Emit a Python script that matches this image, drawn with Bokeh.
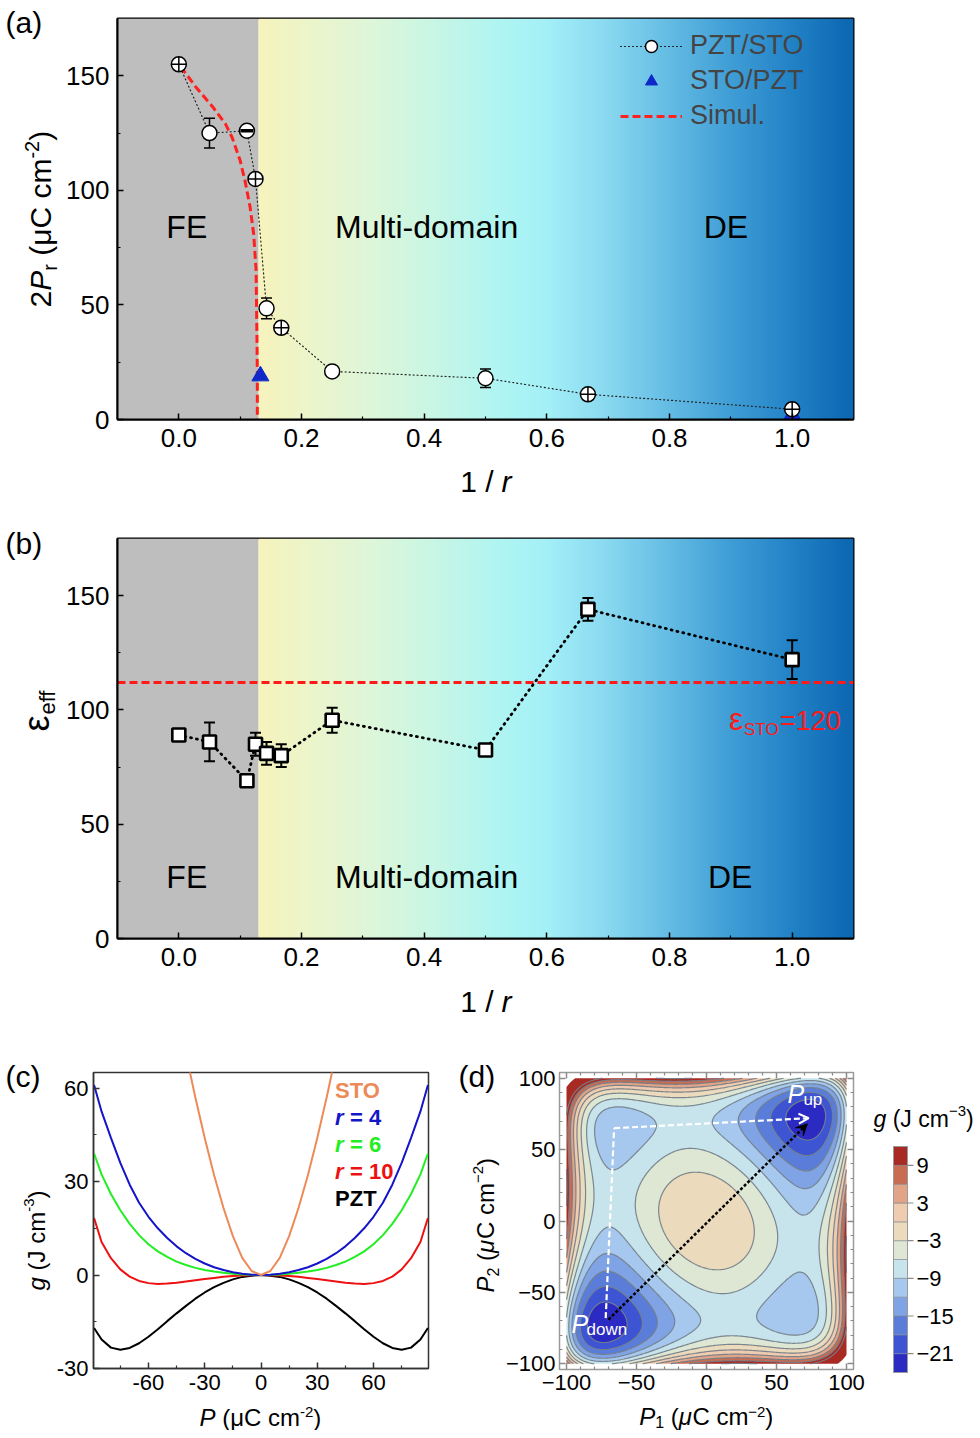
import numpy as np
from bokeh.plotting import figure
from bokeh.layouts import column, row
from bokeh.models import (ColumnDataSource, Legend, LegendItem, FixedTicker, Range1d,
                          Arrow, VeeHead, OpenHead, Span, Whisker, TeeHead, LinearAxis)
from bokeh.core.properties import value
from bokeh.embed import file_html
from bokeh.resources import INLINE

FONT = "Liberation Sans"

# ---------------- panel (a) data ----------------
inv_r = [0.0, 0.05, 0.111, 0.125, 0.143, 0.167, 0.25, 0.5, 0.667, 1.0]
pr2_pzt_sto = [155.0, 125.0, 126.0, 105.0, 48.5, 40.0, 21.0, 18.0, 11.0, 4.5]
pr2_pzt_sto_err = [2.0, 6.5, 1.0, 2.0, 4.5, 2.0, 1.5, 4.0, 2.0, 2.0]
inv_r_sto_pzt = [0.133, 1.0]
pr2_sto_pzt = [19.0, 2.0]
simul_inv_r = [0.003, 0.028, 0.055, 0.076, 0.087, 0.100, 0.108, 0.116, 0.122, 0.126, 0.127, 0.128, 0.128]
simul_pr2 = [154.0, 145.0, 136.5, 129.0, 123.0, 113.0, 104.0, 93.0, 81.0, 65.0, 43.0, 21.0, 0.0]

# ---------------- panel (b) data ----------------
eps_eff = [89.0, 86.0, 69.0, 85.0, 81.0, 80.0, 95.5, 82.5, 144.0, 122.0]
eps_eff_err = [1.5, 8.5, 2.0, 5.0, 5.0, 5.0, 5.5, 2.0, 5.0, 8.5]
eps_sto_level = 112.0

fe_boundary = 0.13
region_names = ["FE", "Multi-domain", "DE"]
bg_stop_x = [0.13, 0.2, 0.3, 0.42, 0.52, 0.6, 0.7, 0.8, 0.9, 1.0, 1.1]
bg_stop_color = ["#f7f3bd", "#eef5c9", "#e0f6d8", "#c8f6e6", "#b0f5f2", "#a4f0f8",
                 "#88d8f0", "#64bce4", "#409ed6", "#2282c6", "#0c66b2"]

# ---------------- panel (c) data ----------------
P_c = [-89, -85, -80, -75, -70, -65, -60, -55, -50, -45, -40, -35, -30, -25, -20, -15, -10, -5, 0,
       5, 10, 15, 20, 25, 30, 35, 40, 45, 50, 55, 60, 65, 70, 75, 80, 85, 89]
g_pzt = [-17.0, -20.7, -23.3, -24.0, -23.4, -21.9, -19.8, -17.4, -14.8, -12.3, -9.9, -7.6, -5.6, -3.9,
         -2.5, -1.4, -0.6, -0.2, 0.0, -0.2, -0.6, -1.4, -2.5, -3.9, -5.6, -7.6, -9.9, -12.3, -14.8,
         -17.4, -19.8, -21.9, -23.4, -24.0, -23.3, -20.7, -17.0]
g_r10 = [18.3, 10.6, 5.4, 1.8, -0.5, -1.9, -2.6, -2.85, -2.75, -2.5, -2.1, -1.7, -1.3, -0.92, -0.59,
         -0.34, -0.15, -0.04, 0.0, -0.04, -0.15, -0.34, -0.59, -0.92, -1.3, -1.7, -2.1, -2.5, -2.75,
         -2.85, -2.6, -1.9, -0.5, 1.8, 5.4, 10.6, 18.3]
g_r6 = [39.0, 32.3, 26.0, 20.8, 16.4, 12.8, 9.9, 7.6, 5.8, 4.3, 3.2, 2.3, 1.6, 1.1, 0.7, 0.4, 0.2, 0.05,
        0.0, 0.05, 0.2, 0.4, 0.7, 1.1, 1.6, 2.3, 3.2, 4.3, 5.8, 7.6, 9.9, 12.8, 16.4, 20.8, 26.0, 32.3, 39.0]
g_r4 = [61.0, 52.5, 44.0, 36.0, 29.0, 23.2, 18.7, 15.0, 11.9, 9.2, 7.0, 5.2, 3.7, 2.5, 1.6, 0.9, 0.4, 0.1,
        0.0, 0.1, 0.4, 0.9, 1.6, 2.5, 3.7, 5.2, 7.0, 9.2, 11.9, 15.0, 18.7, 23.2, 29.0, 36.0, 44.0, 52.5, 61.0]
P_sto = [-40, -35, -30, -25, -20, -15, -10, -5, 0, 5, 10, 15, 20, 25, 30, 35, 40]
g_sto = [71.0, 57.0, 44.0, 32.0, 21.5, 12.5, 5.5, 1.3, 0.0, 1.3, 5.5, 12.5, 21.5, 32.0, 44.0, 57.0, 71.0]

# ---------------- panel (d) data ----------------
landau_a = -2.813e-3     # single-layer Landau coefficients
landau_b = 4.87e-8
landau_c = 3.426e-11
coupling = 1.25e-3
contour_levels = [-24, -21, -18, -15, -12, -9, -6, -3, 0, 3, 6, 9, 12]
contour_colors = ["#2b2bc4", "#3d55d2", "#5b7dda", "#7fa3e4", "#a6c8ee", "#c7e3ec",
                  "#dde7d4", "#ebdabb", "#efcbb0", "#e2a487", "#c86c52", "#a82a22"]
over_levels = [12, 25]
cbar_ticks = [9, 3, -3, -9, -15, -21]
white_path_p1 = [-72, -66, 73]
white_path_p2 = [-68, 65, 72]
black_arrow_p1 = [-70, 72]
black_arrow_p2 = [-69, 68]

# ---------------- helpers ----------------
WID = {' ': .278, '(': .333, ')': .333, '-': .333, '−': .584, '/': .278, '=': .584, 'C': .722, 'J': .5,
       'P': .667, 'S': .667, 'T': .611, 'O': .778, 'c': .5, 'm': .833, 'e': .556, 'f': .278, 'g': .556,
       'r': .333, 'μ': .576, 'ε': .47, 'u': .556, 'p': .556, 'd': .556, 'o': .556, 'w': .722, 'n': .556}
MID = 0.3   # em-box middle above the alphabetic baseline


def tw(s, size):
    return sum(WID.get(ch, 0.556) for ch in s) * size


def canvas(w, h, xr=None, yr=None, ml=0, mr=0):
    c = figure(width=w, height=h, x_range=Range1d(*(xr or (0, w))), y_range=Range1d(*(yr or (0, h))),
               x_axis_location=None, y_axis_location=None, output_backend="svg", toolbar_location=None,
               min_border=0, min_border_left=ml, min_border_right=mr, min_border_top=0, min_border_bottom=0)
    c.xgrid.visible = False
    c.ygrid.visible = False
    c.outline_line_color = None
    c.background_fill_color = "white"
    c.border_fill_color = "white"
    return c


def rich(cv, pieces, x0, y0, vertical=False, color="black", scale_y=1.0):
    """x0, y0: start of the alphabetic baseline (canvas units)."""
    pos = 0.0
    for txt, size, style, shift in pieces:
        lead = len(txt) - len(txt.lstrip(" "))
        trail = len(txt) - len(txt.rstrip(" "))
        core = txt.strip(" ")
        pos += lead * WID[" "] * size
        if vertical:
            x, y, ang = x0 - shift - MID * size, y0 + pos, np.pi / 2
        else:
            x, y, ang = x0 + pos, y0 + (shift + MID * size) * scale_y, 0.0
        cv.text(x=[x], y=[y], text=[core], angle=ang, text_font=value(FONT), text_font_size=f"{size}px",
                text_font_style=style, text_color=color, text_align="left", text_baseline="middle")
        pos += tw(core, size) + trail * WID[" "] * size


def make_fig(w, h, xr, yr, ml, mr, mt, mb, **kw):
    p = figure(width=w, height=h, x_range=Range1d(*xr), y_range=Range1d(*yr),
               output_backend="svg", toolbar_location=None,
               min_border_left=ml, min_border_right=mr, min_border_top=mt, min_border_bottom=mb, **kw)
    p.xgrid.visible = False
    p.ygrid.visible = False
    p.background_fill_color = "white"
    p.border_fill_color = "white"
    return p


def style_axis(ax, size, line_color="black", tick_color="black", lw=2, maj=6, mnr=3):
    ax.major_label_text_font = FONT
    ax.major_label_text_font_size = size
    ax.major_label_text_color = "black"
    ax.axis_line_color = line_color
    ax.axis_line_width = lw
    ax.major_tick_line_color = tick_color
    ax.minor_tick_line_color = tick_color
    ax.major_tick_line_width = 1.5
    ax.minor_tick_line_width = 1.2
    ax.major_tick_in = maj
    ax.major_tick_out = 0
    ax.minor_tick_in = mnr
    ax.minor_tick_out = 0


def gradient_image():
    n = 400
    xs = np.linspace(fe_boundary, 1.1, n)
    rgb = np.array([[int(c[i:i + 2], 16) for i in (1, 3, 5)] for c in bg_stop_color], dtype=float)
    img = np.zeros((1, n), dtype=np.uint32)
    v = img.view(dtype=np.uint8).reshape((1, n, 4))
    for k in range(3):
        v[0, :, k] = np.interp(xs, bg_stop_x, rgb[:, k]).astype(np.uint8)
    v[0, :, 3] = 255
    return img


def background(p):
    p.quad(left=-0.1, right=fe_boundary, bottom=0, top=175, fill_color="#bebebe",
           line_color=None, level="image")
    p.image_rgba(image=[gradient_image()], x=fe_boundary, y=0, dw=1.1 - fe_boundary, dh=175, level="image")


def style_ab(p):
    for ax in (p.xaxis[0], p.yaxis[0]):
        style_axis(ax, "26px")
    p.outline_line_color = "black"
    p.outline_line_width = 2
    p.xaxis[0].ticker = FixedTicker(ticks=[0.0, 0.2, 0.4, 0.6, 0.8, 1.0], minor_ticks=[0.1, 0.3, 0.5, 0.7, 0.9])
    p.xaxis[0].major_label_overrides = {0.0: "0.0", 0.2: "0.2", 0.4: "0.4", 0.6: "0.6", 0.8: "0.8", 1.0: "1.0"}
    p.yaxis[0].ticker = FixedTicker(ticks=[0, 50, 100, 150], minor_ticks=[25, 75, 125])
    p.xaxis[0].major_label_standoff = 9
    p.yaxis[0].major_label_standoff = 8


# ================= panel (a) =================
pa = make_fig(808, 464, (-0.1, 1.1), (0, 175), 52, 18, 18, 45)
background(pa)
style_ab(pa)

err_a = ColumnDataSource(dict(x=inv_r,
                              lo=[v - e for v, e in zip(pr2_pzt_sto, pr2_pzt_sto_err)],
                              hi=[v + e for v, e in zip(pr2_pzt_sto, pr2_pzt_sto_err)]))
pa.add_layout(Whisker(source=err_a, base="x", lower="lo", upper="hi", line_color="black", line_width=1.5,
                      lower_head=TeeHead(size=11, line_width=1.5), upper_head=TeeHead(size=11, line_width=1.5),
                      level="underlay"))

ln_a = pa.line(inv_r, pr2_pzt_sto, line_color="#222222", line_width=1.2, line_dash="1 3", line_cap="round")
sim = pa.line(simul_inv_r, simul_pr2, line_color="#ff2020", line_width=3, line_dash="8 4")
tri = pa.scatter(inv_r_sto_pzt, pr2_sto_pzt, marker="triangle", size=17, fill_color="#1028c8",
                 line_color="#1028c8")
cross_idx = [0, 3, 5, 8, 9]
plain_idx = [1, 2, 4, 6, 7]
sc_plain = pa.scatter([inv_r[i] for i in plain_idx], [pr2_pzt_sto[i] for i in plain_idx], marker="circle",
                      size=15, fill_color="white", line_color="black", line_width=1.5)
pa.scatter([inv_r[i] for i in cross_idx], [pr2_pzt_sto[i] for i in cross_idx], marker="circle_cross",
           size=15, fill_color="white", line_color="black", line_width=1.5)
pa.scatter([inv_r[2]], [pr2_pzt_sto[2]], marker="dash", size=13, line_color="black", line_width=3.5)

pa.text(x=[0.013, 0.404, 0.892], y=[84, 84, 84], text=region_names, text_font=value(FONT),
        text_font_size="32px", text_align="center", text_baseline="middle", text_color="black")

leg = Legend(items=[LegendItem(label="PZT/STO", renderers=[ln_a, sc_plain]),
                    LegendItem(label="STO/PZT", renderers=[tri]),
                    LegendItem(label="Simul.", renderers=[sim])],
             location=(503, 288), label_text_font=FONT, label_text_font_size="27px",
             glyph_width=62, glyph_height=30, label_height=30, spacing=4, padding=0, margin=0,
             background_fill_alpha=0, border_line_alpha=0, label_standoff=8)
pa.add_layout(leg)

a_left = canvas(63, 528)
rich(a_left, [("2", 30, "normal", 0), ("P", 30, "italic", 0), ("r", 20, "normal", -6),
              (" (μC cm", 30, "normal", 0), ("-2", 20, "normal", 12), (")", 30, "normal", 0)],
     49, 221, vertical=True)
rich(a_left, [("(a)", 30, "normal", 0)], 5, 497)
a_bottom = canvas(808, 64, xr=(115, 858), ml=52, mr=18)
rich(a_bottom, [("1 / ", 30, "normal", 0), ("r", 30, "italic", 0)], 461, 38)

# ================= panel (b) =================
pb = make_fig(808, 455, (-0.1, 1.1), (0, 175), 52, 18, 10, 45)
background(pb)
style_ab(pb)

err_b = ColumnDataSource(dict(x=inv_r,
                              lo=[v - e for v, e in zip(eps_eff, eps_eff_err)],
                              hi=[v + e for v, e in zip(eps_eff, eps_eff_err)]))
pb.add_layout(Whisker(source=err_b, base="x", lower="lo", upper="hi", line_color="black", line_width=2,
                      lower_head=TeeHead(size=11, line_width=2), upper_head=TeeHead(size=11, line_width=2),
                      level="underlay"))
pb.add_layout(Span(location=eps_sto_level, dimension="width", line_color="#ff1a1a", line_width=3,
                   line_dash="8 4", level="underlay"))
pb.line(inv_r, eps_eff, line_color="black", line_width=2.8, line_dash="1 5", line_cap="round")
pb.scatter(inv_r, eps_eff, marker="square", size=13, fill_color="white", line_color="black", line_width=2.6)
pb.text(x=[0.013, 0.404, 0.899], y=[26.7, 26.7, 26.7], text=region_names, text_font=value(FONT),
        text_font_size="32px", text_align="center", text_baseline="middle", text_color="black")
pb.text(x=[0.897, 0.897, 0.897], y=[91.8, 91.8, 91.8], text=["ε", "STO", "=120"],
        x_offset=[0, 15, 51], y_offset=[-MID * 32, 6 - MID * 17, -MID * 27], text_font=value(FONT),
        text_font_size=["32px", "17px", "27px"], text_color="#ff1a1a", text_baseline="middle")

b_left = canvas(63, 512)
rich(b_left, [("ε", 36, "normal", 0), ("eff", 22, "normal", -7)], 47, 309, vertical=True)
rich(b_left, [("(b)", 30, "normal", 0)], 5, 488)
b_bottom = canvas(808, 57, xr=(115, 858), ml=52, mr=18)
rich(b_bottom, [("1 / ", 30, "normal", 0), ("r", 30, "italic", 0)], 461, 30)

# ================= panel (c) =================
pc = make_fig(399, 362, (-89.3, 89.3), (-30, 65), 42, 22, 32, 34)
for ax in (pc.xaxis[0], pc.yaxis[0]):
    style_axis(ax, "22px", line_color="#333333", tick_color="#333333", lw=1.5, maj=6, mnr=3)
pc.outline_line_color = "#333333"
pc.outline_line_width = 1.5
pc.xaxis[0].ticker = FixedTicker(ticks=[-60, -30, 0, 30, 60], minor_ticks=[-75, -45, -15, 15, 45, 75])
pc.xaxis[0].major_label_overrides = {-60: "-60", -30: "-30", 0: "0", 30: "30", 60: "60"}
pc.yaxis[0].ticker = FixedTicker(ticks=[-30, 0, 30, 60], minor_ticks=[-15, 15, 45])
pc.yaxis[0].major_label_overrides = {-30: "-30", 0: "0", 30: "30", 60: "60"}
pc.xaxis[0].major_label_standoff = 6
pc.yaxis[0].major_label_standoff = 5

pc.line(P_c, g_pzt, line_color="black", line_width=2)
pc.line(P_c, g_r10, line_color="#ee1111", line_width=2)
pc.line(P_c, g_r6, line_color="#22ee22", line_width=2)
pc.line(P_c, g_r4, line_color="#1414c8", line_width=2)
pc.line(P_sto, g_sto, line_color="#ec8a58", line_width=2)

lab_y = [59.1, 50.5, 41.8, 33.2, 24.5]
pc.text(x=[39.5], y=[lab_y[0]], text=["STO"], text_color="#ec8a58", text_font=value(FONT),
        text_font_style="bold", text_font_size="22px", text_baseline="middle")
for yy, num, col in zip(lab_y[1:4], ["4", "6", "10"], ["#1414c8", "#22ee22", "#ee1111"]):
    pc.text(x=[39.5], y=[yy], text=["r"], text_color=col, text_font=value(FONT),
            text_font_style="bold italic", text_font_size="22px", text_baseline="middle")
    pc.text(x=[39.5], y=[yy], text=["= " + num], x_offset=15, text_color=col, text_font=value(FONT),
            text_font_style="bold", text_font_size="22px", text_baseline="middle")
pc.text(x=[39.5], y=[lab_y[4]], text=["PZT"], text_color="black", text_font=value(FONT),
        text_font_style="bold", text_font_size="22px", text_baseline="middle")

c_left = canvas(51, 390)
rich(c_left, [("g", 24, "italic", 0), (" (J cm", 24, "normal", 0), ("-3", 15, "normal", 10),
              (")", 24, "normal", 0)], 43, 140, vertical=True)
rich(c_left, [("(c)", 30, "normal", 0)], 5, 345)
c_bottom = canvas(399, 28, xr=(93, 428), ml=42, mr=22)
rich(c_bottom, [("P", 24, "italic", 0), (" (μC cm", 24, "normal", 0), ("-2", 15, "normal", 8.5),
                (")", 24, "normal", 0)], 199, 6)

# ================= panel (d) =================
pdd = make_fig(368, 363, (-105, 105), (-104, 104), 56, 17, 32, 34)
p_axis = np.linspace(-100, 100, 201)
P1g, P2g = np.meshgrid(p_axis, p_axis)


def h_layer(p):
    u = p * p
    return landau_a * u + landau_b * u ** 2 + landau_c * u ** 3


G = h_layer(P1g) + h_layer(P2g) - coupling * P1g * P2g
pdd.contour(p_axis, p_axis, G, levels=over_levels, fill_color=[contour_colors[-1]], line_color=None)
pdd.contour(p_axis, p_axis, G, levels=contour_levels, fill_color=contour_colors,
            line_color="#6f7b86", line_width=1.2, line_alpha=0.9)

pdd.line(white_path_p1[:2], white_path_p2[:2], line_color="white", line_width=2.2, line_dash="6 3")
pdd.add_layout(Arrow(end=OpenHead(size=10, line_color="white", line_width=2),
                     x_start=white_path_p1[1], y_start=white_path_p2[1],
                     x_end=white_path_p1[2], y_end=white_path_p2[2],
                     line_color="white", line_width=2.2, line_dash="6 3"))
pdd.add_layout(Arrow(end=VeeHead(size=11, fill_color="black", line_color="black"),
                     x_start=black_arrow_p1[0], y_start=black_arrow_p2[0],
                     x_end=black_arrow_p1[1], y_end=black_arrow_p2[1],
                     line_color="black", line_width=2.5, line_dash="3 2"))
pdd.text(x=[57.8, 57.8], y=[83.4, 83.4], text=["P", "up"], x_offset=[0, 16], y_offset=[-MID * 25, 3 - MID * 17],
         text_font=value(FONT), text_font_style=["italic", "normal"], text_font_size=["25px", "17px"],
         text_color="white", text_baseline="middle")
pdd.text(x=[-96.4, -96.4], y=[-77.6, -77.6], text=["P", "down"], x_offset=[0, 15],
         y_offset=[-MID * 25, 3 - MID * 17],
         text_font=value(FONT), text_font_style=["italic", "normal"], text_font_size=["25px", "17px"],
         text_color="white", text_baseline="middle")

d_major = [-100, -50, 0, 50, 100]
d_minor = [-90, -80, -70, -60, -40, -30, -20, -10, 10, 20, 30, 40, 60, 70, 80, 90]
d_over = {-100: "−100", -50: "−50", 0: "0", 50: "50", 100: "100"}
d_blank = {t: "" for t in d_major}
ax_bottom = pdd.xaxis[0]
ax_left = pdd.yaxis[0]
ax_top = LinearAxis()
ax_right = LinearAxis()
pdd.add_layout(ax_top, "above")
pdd.add_layout(ax_right, "right")
for ax, ov in ((ax_bottom, d_over), (ax_left, d_over), (ax_top, d_blank), (ax_right, d_blank)):
    style_axis(ax, "22px", line_color=None, tick_color="#8a8a8a", lw=1, maj=6, mnr=3)
    ax.ticker = FixedTicker(ticks=d_major, minor_ticks=d_minor)
    ax.major_label_overrides = ov
ax_bottom.major_label_standoff = 5
ax_left.major_label_standoff = 4
ax_top.major_label_standoff = 0
ax_right.major_label_standoff = 0
pdd.outline_line_color = "#9a9a9a"
pdd.outline_line_width = 1.5

d_left = canvas(52, 390)
rich(d_left, [("P", 24, "italic", 0), ("2", 16, "normal", -5), (" (", 24, "normal", 0), ("μ", 24, "italic", 0),
              ("C cm", 24, "normal", 0), ("−2", 15, "normal", 10), (")", 24, "normal", 0)],
     42, 138, vertical=True)
rich(d_left, [("(d)", 30, "normal", 0)], 8, 345)
d_bottom = canvas(368, 27, xr=(558, 853), ml=56, mr=17)
rich(d_bottom, [("P", 24, "italic", 0), ("1", 16, "normal", -3), (" (", 24, "normal", 0), ("μ", 24, "italic", 0),
                ("C cm", 24, "normal", 0), ("−2", 15, "normal", 7.5), (")", 24, "normal", 0)], 638, 7)

# ================= colour bar (one full-frame figure) =================
cb_px_top, cb_px_bottom = 1146, 1372          # page rows of the bar ends
row_top, row_bottom = 1040, 1430
cb_low, cb_high = contour_levels[0], contour_levels[-1]
ppu = (cb_px_bottom - cb_px_top) / (cb_high - cb_low)
pcb = figure(width=108, height=390, x_range=Range1d(870, 978),
             y_range=Range1d(cb_low - (row_bottom - cb_px_bottom) / ppu, cb_high + (cb_px_top - row_top) / ppu),
             x_axis_location=None, y_axis_location=None, output_backend="svg", toolbar_location=None,
             min_border=0, min_border_left=0, min_border_right=0, min_border_top=0, min_border_bottom=0)
pcb.xgrid.visible = False
pcb.ygrid.visible = False
pcb.outline_line_color = None
pcb.background_fill_color = "white"
pcb.border_fill_color = "white"
pcb.quad(left=893, right=907, bottom=contour_levels[:-1], top=contour_levels[1:], fill_color=contour_colors,
         line_color="#7f8894", line_width=0.6)
pcb.quad(left=893, right=907, bottom=cb_low, top=cb_high, fill_color=None, line_color="#9a9a9a", line_width=1)
pcb.segment(x0=907, x1=913, y0=cbar_ticks, y1=cbar_ticks, line_color="#8a8a8a", line_width=1.2)
pcb.text(x=916, y=cbar_ticks, text=[(str(t) if t >= 0 else "−" + str(-t)) for t in cbar_ticks],
         text_font=value(FONT), text_font_size="22px", text_baseline="middle", text_align="left",
         text_color="black")
rich(pcb, [("g", 23, "italic", 0), (" (J cm", 23, "normal", 0), ("−3", 15, "normal", 10),
           (")", 23, "normal", 0)], 873, cb_high + (cb_px_top - 1125) / ppu, scale_y=1.0 / ppu)

layout = column(
    row(a_left, column(pa, a_bottom)),
    row(b_left, column(pb, b_bottom)),
    row(c_left, column(pc, c_bottom), d_left, column(pdd, d_bottom), pcb),
)
open("out.html", "w").write(file_html(layout, INLINE))
